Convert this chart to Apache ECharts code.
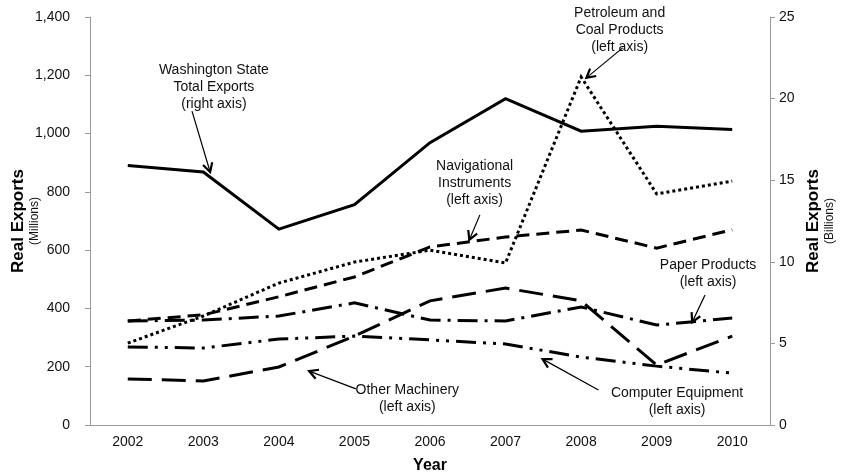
<!DOCTYPE html>
<html>
<head>
<meta charset="utf-8">
<script src="https://cdn.jsdelivr.net/npm/echarts@6/dist/echarts.min.js"></script>
<style>
html,body{margin:0;padding:0;background:#fff;}
#c{width:843px;height:472px;}
</style>
</head>
<body>
<div id="c"></div>
<script>
// ---- data ----
var years = ['2002','2003','2004','2005','2006','2007','2008','2009','2010'];
var waTotal = [15.9, 15.5, 12.0, 13.5, 17.3, 20.0, 18.0, 18.3, 18.1];      // right axis, billions
var petroleum = [281, 374, 487, 559, 600, 556, 1194, 793, 837];           // left axis, millions
var navigational = [357, 378, 440, 508, 611, 645, 669, 607, 670];
var paper = [357, 360, 374, 419, 360, 357, 405, 343, 367];
var otherMachinery = [158, 151, 199, 305, 426, 470, 426, 206, 305];
var computer = [268, 264, 295, 305, 292, 278, 233, 202, 178];
var leftTicks = [0, 200, 400, 600, 800, 1000, 1200, 1400];
var rightTicks = [0, 5, 10, 15, 20, 25];

// annotation layout (x in category-index units, y in left-axis units)
var annotations = [
  {text:'Washington State\nTotal Exports\n(right axis)', at:[1.14,1160], tail:[0.85,1077], head:[1.09,868]},
  {text:'Petroleum and\nCoal Products\n(left axis)', at:[6.51,1355], tail:[6.55,1294], head:[6.07,1191]},
  {text:'Navigational\nInstruments\n(left axis)', at:[4.59,830], tail:[4.66,721], head:[4.52,635]},
  {text:'Paper Products\n(left axis)', at:[7.68,518], tail:[7.64,446], head:[7.47,353]},
  {text:'Other Machinery\n(left axis)', at:[3.70,89], tail:[3.02,124], head:[2.40,185]},
  {text:'Computer Equipment\n(left axis)', at:[7.27,79], tail:[6.23,120], head:[5.49,226]}
];

var FONT = "'Liberation Sans', Arial, Helvetica, sans-serif";
var chart = echarts.init(document.getElementById('c'), null, {renderer:'canvas'});

function mkLine(name, data, type, yIdx){
  return {
    name: name, type: 'line', data: data, yAxisIndex: yIdx || 0, xAxisIndex: 0,
    symbol: 'none', silent: true,
    lineStyle: {color:'#000', width: 3, type: type, cap: 'butt', join: 'miter'}
  };
}

var axisLineStyle = {color:'#9a9a9a', width:1};
var nameRich = {
  b: {fontSize: 17, fontWeight: 'bold', color: '#000', fontFamily: FONT, lineHeight: 19},
  s: {fontSize: 12, color: '#111', fontFamily: FONT, lineHeight: 14}
};
var option = {
  animation: false,
  textStyle: {fontFamily: FONT},
  grid: {left: 90, right: 73, top: 17, bottom: 47, containLabel: false, outerBoundsMode: 'none'},
  xAxis: [{
    type: 'category', data: years, boundaryGap: true,
    name: 'Year', nameLocation: 'middle', nameGap: 33,
    nameTextStyle: {fontSize: 16, fontWeight: 'bold', color: '#000', fontFamily: FONT},
    axisLine: {onZero: false, lineStyle: axisLineStyle},
    axisTick: {alignWithLabel: true, length: 4, lineStyle: axisLineStyle},
    axisLabel: {fontSize: 14, color: '#111', margin: 10, fontFamily: FONT},
    splitLine: {show: false}
  }, {
    type: 'value', min: -0.5, max: 8.5, show: false
  }],
  yAxis: [{
    type: 'value', min: leftTicks[0], max: leftTicks[leftTicks.length-1], interval: 200,
    position: 'left',
    name: '{b|Real Exports}\n{s|(Millions)}', nameLocation: 'middle', nameGap: 48,
    nameMoveOverlap: false,
    nameTextStyle: {rich: nameRich},
    axisLine: {show: true, onZero: false, lineStyle: axisLineStyle},
    axisTick: {show: true, length: 5, lineStyle: axisLineStyle},
    axisLabel: {fontSize: 14, color: '#111', margin: 20, fontFamily: FONT,
      formatter: function(v){ return v.toLocaleString('en-US'); }},
    splitLine: {show: false}
  }, {
    type: 'value', min: rightTicks[0], max: rightTicks[rightTicks.length-1], interval: 5,
    position: 'right',
    name: '{b|Real Exports}\n{s|(Billions)}', nameLocation: 'middle', nameGap: 34,
    nameMoveOverlap: false,
    nameTextStyle: {rich: nameRich},
    axisLine: {show: true, onZero: false, lineStyle: axisLineStyle},
    axisTick: {show: true, length: 5, lineStyle: axisLineStyle},
    axisLabel: {fontSize: 14, color: '#111', margin: 9, fontFamily: FONT},
    splitLine: {show: false}
  }],
  series: [
    mkLine('Computer Equipment', computer, [20,7,3,7,3,7]),
    mkLine('Other Machinery', otherMachinery, [24,10]),
    mkLine('Paper Products', paper, [20,7,3,7]),
    mkLine('Navigational Instruments', navigational, [13,7]),
    mkLine('Petroleum and Coal Products', petroleum, [3,3]),
    mkLine('Washington State Total Exports', waTotal, 'solid', 1)
  ]
};
chart.setOption(option);

function px(p){ return chart.convertToPixel({xAxisIndex:1, yAxisIndex:0}, p); }
var graphics = [];
annotations.forEach(function(a){
  var c = px(a.at), t = px(a.tail), h = px(a.head);
  graphics.push({
    type: 'text', silent: true, z: 100,
    style: {text: a.text, x: c[0], y: c[1], align: 'center', verticalAlign: 'middle',
      font: '14px ' + FONT, lineHeight: 17, fill: '#111'}
  });
  graphics.push({
    type: 'line', silent: true, z: 100,
    shape: {x1: t[0], y1: t[1], x2: h[0], y2: h[1]},
    style: {stroke: '#000', lineWidth: 1.2}
  });
  var ang = Math.atan2(h[1]-t[1], h[0]-t[0]);
  var L = 10, sp = 0.5;
  var p1 = [h[0] - L*Math.cos(ang - sp), h[1] - L*Math.sin(ang - sp)];
  var p2 = [h[0] - L*Math.cos(ang + sp), h[1] - L*Math.sin(ang + sp)];
  graphics.push({
    type: 'polyline', silent: true, z: 100,
    shape: {points: [p1, h, p2]},
    style: {stroke: '#000', lineWidth: 2.2, fill: null}
  });
});
chart.setOption({graphic: graphics});
</script>
</body>
</html>
